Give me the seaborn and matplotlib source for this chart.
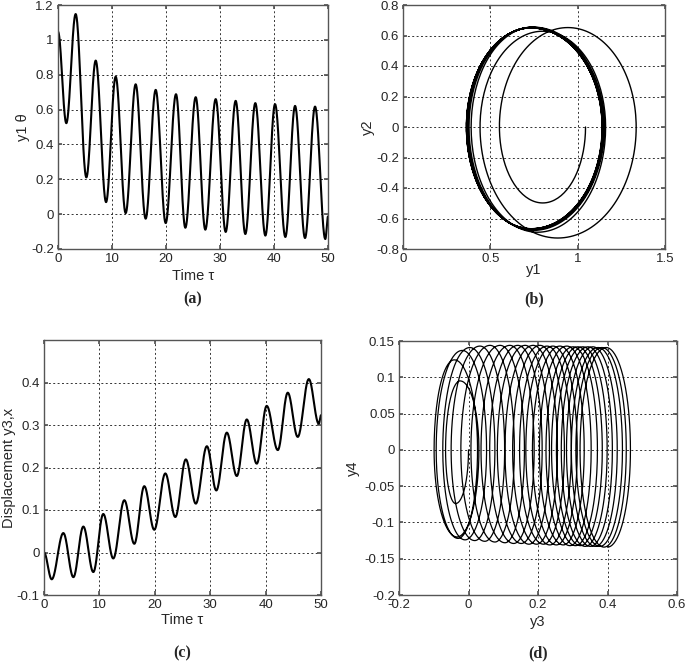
import numpy as np
import pandas as pd
import matplotlib
matplotlib.use("Agg")
import matplotlib.pyplot as plt
import seaborn as sns

# ---------------- data ----------------
# (a) y1 (theta) vs time: successive extrema (start, troughs/peaks, end)
a_t = [0, 1.54, 3.27, 5.25, 6.98, 8.9, 10.68, 12.53, 14.38, 16.23, 18.09, 19.94,
       21.85, 23.58, 25.5, 27.28, 29.2, 31.05, 32.9, 34.69, 36.54, 38.4, 40.19,
       42.1, 43.9, 45.74, 47.6, 49.5, 50.0]
a_y = [1.047, 0.522, 1.148, 0.211, 0.881, 0.069, 0.789, 0.006, 0.745, -0.026,
       0.713, -0.051, 0.688, -0.078, 0.671, -0.089, 0.66, -0.102, 0.65, -0.114,
       0.637, -0.123, 0.631, -0.131, 0.621, -0.137, 0.617, -0.143, -0.013]

# (b) phase plane y1-y2: alternating side points (x extremes, y2=0) and poles (y2 extremes)
b_side_x = [1.045, 0.552, 1.335, 0.441, 1.160, 0.390, 1.152, 0.378, 1.149, 0.372,
            1.147, 0.369, 1.146, 0.367, 1.145, 0.366, 1.144, 0.365, 1.143, 0.364,
            1.142, 0.364, 1.141, 0.363, 1.140, 0.363, 1.140]
b_pole_x = [0.800, 0.944, 0.886, 0.800, 0.770, 0.745, 0.745, 0.738, 0.740, 0.736,
            0.738, 0.735, 0.737, 0.735, 0.736, 0.734, 0.736, 0.734, 0.735, 0.734,
            0.735, 0.733, 0.735, 0.733, 0.735, 0.733]
b_pole_y = [-0.498, 0.652, -0.728, 0.628, -0.690, 0.655, -0.678, 0.654, -0.673,
            0.653, -0.671, 0.652, -0.670, 0.652, -0.669, 0.651, -0.669, 0.651,
            -0.668, 0.651, -0.668, 0.650, -0.667, 0.650, -0.667, 0.650]

# (c) displacement y3 vs time: successive extrema
c_t = [0, 1.39, 3.49, 5.3, 7.1, 8.9, 10.7, 12.5, 14.5, 16.3, 18.1, 19.9, 21.9,
       23.7, 25.6, 27.4, 29.4, 31.1, 33.0, 34.8, 36.6, 38.4, 40.2, 42.2, 44.0,
       45.8, 47.8, 49.6, 50.0]
c_y = [0.0, -0.063, 0.0457, -0.058, 0.061, -0.046, 0.0906, -0.014, 0.123, 0.0205,
       0.156, 0.0535, 0.186, 0.0835, 0.219, 0.115, 0.25, 0.146, 0.282, 0.18,
       0.313, 0.209, 0.345, 0.241, 0.376, 0.272, 0.408, 0.303, 0.323]

# (d) phase plane y3-y4: alternating side points and poles
d_side_x = [0.000, -0.066, 0.030, -0.099, 0.026, -0.093, 0.052, -0.074, 0.076, -0.050,
            0.104, -0.022, 0.132, 0.007, 0.161, 0.036, 0.189, 0.061, 0.212, 0.083,
            0.233, 0.105, 0.256, 0.127, 0.276, 0.147, 0.296, 0.165, 0.313, 0.184,
            0.333, 0.204, 0.353, 0.223, 0.371, 0.239, 0.385, 0.253, 0.399, 0.267,
            0.414, 0.282, 0.428, 0.296, 0.443, 0.309, 0.454, 0.321, 0.466]
d_pole_x = [-0.037, -0.024, -0.033, -0.041, -0.030, -0.018, -0.010, 0.004, 0.018, 0.033,
            0.047, 0.062, 0.076, 0.091, 0.105, 0.119, 0.130, 0.142, 0.152, 0.163,
            0.174, 0.186, 0.196, 0.206, 0.216, 0.226, 0.234, 0.243, 0.253, 0.263,
            0.273, 0.283, 0.292, 0.301, 0.308, 0.315, 0.322, 0.329, 0.336, 0.344,
            0.351, 0.358, 0.365, 0.373, 0.378, 0.384, 0.390, 0.396, 0.400]
d_pole_y = [-0.074, 0.095, -0.120, 0.124, -0.122, 0.137, -0.124, 0.141, -0.125, 0.143,
            -0.126, 0.144, -0.127, 0.144, -0.128, 0.144, -0.129, 0.144, -0.129, 0.144,
            -0.130, 0.144, -0.130, 0.144, -0.130, 0.143, -0.131, 0.143, -0.131, 0.143,
            -0.131, 0.143, -0.132, 0.142, -0.132, 0.142, -0.132, 0.142, -0.133, 0.142,
            -0.133, 0.142, -0.133, 0.141, -0.133, 0.141, -0.134, 0.141, -0.134]

# ---------------- rendering helpers (smooth strokes through the read extrema) --------
def wave_path(ts, vs, n=40):
    xs, ys = [], []
    for i in range(len(ts) - 1):
        s = np.linspace(0, 1, n, endpoint=False)
        xs.append(ts[i] + (ts[i + 1] - ts[i]) * s)
        ys.append(vs[i] + (vs[i + 1] - vs[i]) * (1 - np.cos(np.pi * s)) / 2)
    xs.append([ts[-1]]); ys.append([vs[-1]])
    return pd.DataFrame({"x": np.concatenate(xs), "y": np.concatenate(ys)})


def phase_path(side_x, pole_x, pole_y, n=40):
    xs, ys = [], []
    phi = np.linspace(0, np.pi / 2, n)
    for i in range(len(pole_x)):
        px, py = pole_x[i], pole_y[i]
        xs.append(px + (side_x[i] - px) * np.cos(phi)); ys.append(py * np.sin(phi))
        if i + 1 < len(side_x):
            xs.append(px + (side_x[i + 1] - px) * np.sin(phi)); ys.append(py * np.cos(phi))
    return pd.DataFrame({"x": np.concatenate(xs), "y": np.concatenate(ys)})


# ---------------- figure ----------------
sns.set_theme(style="white")
plt.rcParams["font.family"] = ["Liberation Sans", "DejaVu Sans"]
plt.rcParams["font.size"] = 9

W, H = 685, 664
fig = plt.figure(figsize=(W / 100, H / 100), dpi=100)
fig.patch.set_facecolor("white")


def make_ax(l, r, t, b):
    return fig.add_axes([l / W, 1 - b / H, (r - l) / W, (b - t) / H])


def style(ax, xlim, ylim, xt, yt, xlabel, ylabel, xl_y, yl_x):
    ax.set_xlim(*xlim); ax.set_ylim(*ylim)
    ax.set_xticks(xt); ax.set_yticks(yt)
    ax.set_xticklabels(["%g" % v for v in xt], fontsize=9.5)
    ax.set_yticklabels(["%g" % v for v in yt], fontsize=9.5)
    ax.grid(True, color="#333333", linestyle=(0, (2, 2.5)), linewidth=0.7)
    for sp in ax.spines.values():
        sp.set_color("#555555"); sp.set_linewidth(1.0); sp.set_visible(True)
    ax.tick_params(direction="in", length=3, color="#555555", pad=3,
                   top=True, right=True, bottom=True, left=True)
    ax.set_xlabel(xlabel, fontsize=10.5)
    ax.set_ylabel(ylabel, fontsize=10.5)
    ax.xaxis.set_label_coords(0.5, xl_y)
    ax.xaxis.label.set_va("center")
    ax.yaxis.set_label_coords(yl_x, 0.5)
    ax.yaxis.label.set_va("center")
    ax.set_facecolor("white")


# (a)
ax_a = make_ax(58, 328, 5, 249)
sns.lineplot(data=wave_path(a_t, a_y), x="x", y="y", sort=False, estimator=None,
             color="black", linewidth=1.5, ax=ax_a)
style(ax_a, (0, 50), (-0.2, 1.2), [0, 10, 20, 30, 40, 50],
      [-0.2, 0, 0.2, 0.4, 0.6, 0.8, 1, 1.2], "Time \u03c4", "y1 \u03b8", -0.11, -0.13)

# (b)
ax_b = make_ax(403, 665, 5, 249)
sns.lineplot(data=phase_path(b_side_x, b_pole_x, b_pole_y), x="x", y="y", sort=False,
             estimator=None, color="black", linewidth=1.0, ax=ax_b)
style(ax_b, (0, 1.5), (-0.8, 0.8), [0, 0.5, 1, 1.5],
      [-0.8, -0.6, -0.4, -0.2, 0, 0.2, 0.4, 0.6, 0.8], "y1", "y2", -0.085, -0.135)

# (c)
ax_c = make_ax(44, 321, 340, 595)
sns.lineplot(data=wave_path(c_t, c_y), x="x", y="y", sort=False, estimator=None,
             color="black", linewidth=1.5, ax=ax_c)
style(ax_c, (0, 50), (-0.1, 0.5), [0, 10, 20, 30, 40, 50],
      [-0.1, 0, 0.1, 0.2, 0.3, 0.4], "Time \u03c4", "Displacement y3,x", -0.1, -0.125)

# (d)
ax_d = make_ax(399, 677, 341, 595)
sns.lineplot(data=phase_path(d_side_x, d_pole_x, d_pole_y), x="x", y="y", sort=False,
             estimator=None, color="black", linewidth=0.9, ax=ax_d)
style(ax_d, (-0.2, 0.6), (-0.2, 0.15), [-0.2, 0, 0.2, 0.4, 0.6],
      [-0.2, -0.15, -0.1, -0.05, 0, 0.05, 0.1, 0.15], "y3", "y4", -0.106, -0.165)

# panel letters
for txt, x, y in [("(a)", 193, 299), ("(b)", 534, 299), ("(c)", 182, 653), ("(d)", 538, 653)]:
    fig.text(x / W, 1 - y / H, txt, ha="center", va="center", fontsize=11.5,
             fontweight="bold", family=["Liberation Serif", "DejaVu Serif"])

fig.savefig("out.png", dpi=100, facecolor="white")
